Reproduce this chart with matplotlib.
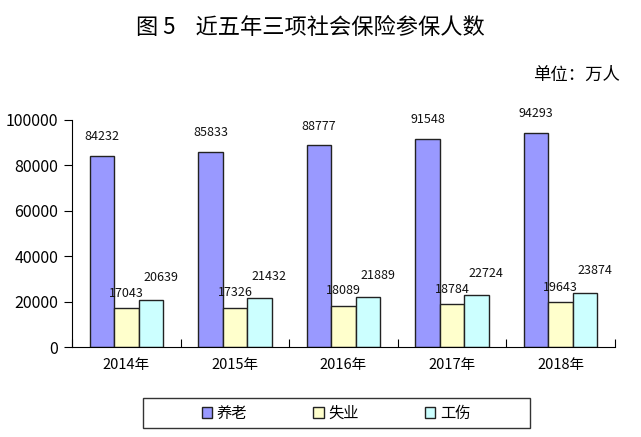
import matplotlib
matplotlib.use('Agg')
import matplotlib.pyplot as plt
from matplotlib.patches import Rectangle
import numpy as np

plt.rcParams['font.family'] = ['Noto Sans CJK SC', 'DejaVu Sans']

# datos
anios = ['2014年', '2015年', '2016年', '2017年', '2018年']
yanglao = [84232, 85833, 88777, 91548, 94293]
shiye = [17043, 17326, 18089, 18784, 19643]
gongshang = [20639, 21432, 21889, 22724, 23874]
series_nombres = ['养老', '失业', '工伤']

colores = ['#9999FF', '#FFFFCC', '#CCFFFF']

fig = plt.figure(figsize=(6.41, 4.37), dpi=100)
ax = fig.add_axes([72/641, 1-347/437, (615-72)/641, (347-120)/437])

x = np.arange(len(anios))
w = 0.225
barras = []
for i, (vals, col) in enumerate(zip([yanglao, shiye, gongshang], colores)):
    b = ax.bar(x + (i-1)*w, vals, width=w, color=col, edgecolor='#222222', linewidth=1.0)
    barras.append(b)

# etiquetas de valores (desplazamientos en puntos)
desplaz = [(0, 14), (0, 11), (7, 16)]
for vals, b, (dx, dy) in zip([yanglao, shiye, gongshang], barras, desplaz):
    for rect, v in zip(b, vals):
        ax.annotate(str(v), (rect.get_x() + rect.get_width()/2, v),
                    xytext=(dx, dy), textcoords='offset points',
                    ha='center', va='center', fontsize=9, color='#111111')

ax.set_xlim(-0.5, len(anios)-0.5)
ax.set_ylim(0, 100000)
ax.set_yticks(np.arange(0, 100001, 20000))
ax.tick_params(axis='y', direction='out', length=6, labelsize=11.5, pad=4)

ax.set_xticks(np.arange(-0.5, len(anios), 1.0))
ax.set_xticklabels([])
ax.tick_params(axis='x', which='major', direction='in', length=6)
ax.set_xticks(x, minor=True)
ax.set_xticklabels(anios, minor=True, fontsize=10.5)
ax.tick_params(axis='x', which='minor', length=0, pad=8)

ax.spines['top'].set_visible(False)
ax.spines['right'].set_visible(False)

# titulos
fig.text(310/641, 1-28/437, '图 5    近五年三项社会保险参保人数', ha='center', va='center', fontsize=16)
fig.text(620/641, 1-75/437, '单位：万人', ha='right', va='center', fontsize=12.5)

# leyenda con marco aparte
fig.add_artist(Rectangle((143/641, 1-428/437), (530-143)/641, 30/437,
                         transform=fig.transFigure, fill=False, edgecolor='#333333', linewidth=1.0))
fig.legend(barras, series_nombres, loc='center', bbox_to_anchor=(336/641, 1-413/437),
           ncol=3, frameon=False, fontsize=11, handlelength=0.7, handleheight=0.7,
           handletextpad=0.3, columnspacing=4.3)

plt.savefig('out.png', dpi=100)
